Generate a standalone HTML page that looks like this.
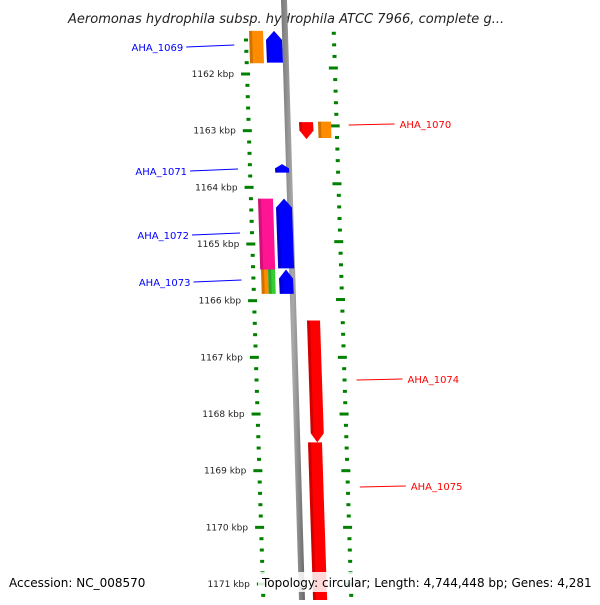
<!DOCTYPE html>
<html><head><meta charset="utf-8"><style>
body{margin:0;background:#fff;width:600px;height:600px;overflow:hidden}
svg{font-family:"DejaVu Sans","Liberation Sans",sans-serif}
</style></head><body>
<svg id="c" width="600" height="600" xmlns="http://www.w3.org/2000/svg">
<defs>
<linearGradient id="gb" x1="0" x2="1"><stop offset="0" stop-color="#777"/><stop offset="0.5" stop-color="#aaa"/><stop offset="1" stop-color="#666"/></linearGradient>
</defs>
<text x="68" y="23" font-size="13" font-style="italic" fill="#222">Aeromonas hydrophila subsp. hydrophila ATCC 7966, complete g...</text>
<g id="ticks"></g><g id="genes"></g><g id="labels"></g>
<rect x="5" y="572" width="115" height="20" fill="#fff" opacity="0.85"/>
<text x="9" y="587" font-size="12" fill="#000">Accession: NC_008570</text>
<rect x="258" y="572" width="340" height="20" fill="#fff" opacity="0.85"/>
<text x="262" y="587" font-size="12" fill="#000">Topology: circular; Length: 4,744,448 bp; Genes: 4,281</text>
</svg>
<script>
const tickKbp=[1162,1163,1164,1165,1166,1167,1168,1169,1170,1171];
const geneNames=["AHA_1069","AHA_1069b","AHA_1070","AHA_1070b","AHA_1071","AHA_1072","AHA_1072b","AHA_1073","AHA_1073b","AHA_1073c","AHA_1074","AHA_1075"];
const geneStart=[1161.24,1161.24,1162.85,1162.84,1163.59,1164.20,1164.20,1165.45,1165.45,1165.45,1166.35,1168.50];
const geneEnd=[1161.81,1161.80,1163.15,1163.13,1163.74,1165.45,1165.43,1165.88,1165.88,1165.88,1168.50,1171.80];
const geneStrand=[0,1,-1,0,1,0,1,0,0,1,-1,-1];
const geneColor=["#ff8c00","#0000ff","#ff0000","#ff8c00","#0000ff","#ff1493","#0000ff","#ff8c00","#33cc33","#0000ff","#ff0000","#ff0000"];
const geneLane=[249,266,299,318,275,258,276,261,268,279,307,308];
const geneW=[14,16,14,13,14,15,16,7,7,14,13,14];
const labelNames=["AHA_1069","AHA_1070","AHA_1071","AHA_1072","AHA_1073","AHA_1074","AHA_1075"];
const labelY=[47,124,171,235,282,379,486];
const labelSide=[-1,1,-1,-1,-1,1,1];

const NS="http://www.w3.org/2000/svg";
function yOf(k){return 74+(k-1162)*56.67;}
function sk(y){return (y-40)*0.031;}
function mk(t,a,p){const e=document.createElementNS(NS,t);for(const k in a)e.setAttribute(k,a[k]);p.appendChild(e);return e;}
const T=document.getElementById('ticks'),G=document.getElementById('genes'),L=document.getElementById('labels');
const bb=mk('polygon',{points:`281,0 287,0 ${287+18},600 ${281+18},600`,fill:'url(#gb)'},T);


for(let i=-6;i<=54;i++){
  const k=1162+i*0.2; const y=yOf(k); if(y<30||y>598)continue;
  const major=Math.abs(i%5)===0;
  const xl=243+sk(y)+(major?0:1);
  const t=mk('rect',{x:major?xl-3:xl,y:y-1.5,width:major?9:4,height:3,fill:'#008000'},T);
  
  
  const yr=y-Math.max(0,6-(y-74)*6/280);
  const xr=331+sk(yr)+(major?0:1);
  const r=mk('rect',{x:major?xr-3:xr,y:yr-1.5,width:major?9:4,height:3,fill:'#008000'},T);
  
  
}
tickKbp.forEach(k=>{const y=yOf(k);
  const tx=mk('text',{x:233+sk(y),y:y+3,'font-size':9,'text-anchor':'end',fill:'#222'},T);
  tx.textContent=k+' kbp';
  
  
});
geneNames.forEach((n,i)=>{
  const y0=yOf(geneStart[i]),y1=yOf(geneEnd[i]),x=geneLane[i],w=geneW[i];
  const s0=0,s1=sk(y1)-sk(y0);
  const h=Math.min(9,(y1-y0)/2),st=geneStrand[i];
  let pts;
  if(st===1)pts=[[x+s0+w/2,y0],[x+s0+w,y0+h],[x+s1+w,y1],[x+s1,y1],[x+s0,y0+h]];
  else if(st===-1)pts=[[x+s0,y0],[x+s0+w,y0],[x+s1+w,y1-h],[x+s1+w/2,y1],[x+s1,y1-h]];
  else pts=[[x+s0,y0],[x+s0+w,y0],[x+s1+w,y1],[x+s1,y1]];
  const g=mk('polygon',{points:pts.map(p=>p.join(',')).join(' '),fill:geneColor[i]},G);
  
  
  const a=y0+(st===1?h:0),b=y1-(st===-1?h:0);
  const sa=sk(a)-sk(y0),sb=sk(b)-sk(y0);
  const sh=mk('polygon',{points:`${x+sa},${a} ${x+sa+3},${a} ${x+sb+3},${b} ${x+sb},${b}`,fill:'#000',opacity:0.18},G);
  
  
});
labelNames.forEach((n,i)=>{
  const y=labelY[i];
  let tx,x1,x2,col;
  if(labelSide[i]<0){col='#0000ff';x2=233+sk(y)+1;x1=x2-48;
    tx=mk('text',{x:x1-3,y:y+4,'font-size':10,'text-anchor':'end',fill:col},L);}
  else{col='#ff0000';x1=340+sk(y)+6;x2=x1+46;
    tx=mk('text',{x:x2+5,y:y+4,'font-size':10,fill:col},L);}
  tx.textContent=n;
  
  
  const ln=mk('line',{x1:x1,y1:y+(labelSide[i]<0?0:1),x2:x2,y2:y-(labelSide[i]<0?2:0),stroke:col,'stroke-width':1},L);
  
  
});
</script>
</body></html>
